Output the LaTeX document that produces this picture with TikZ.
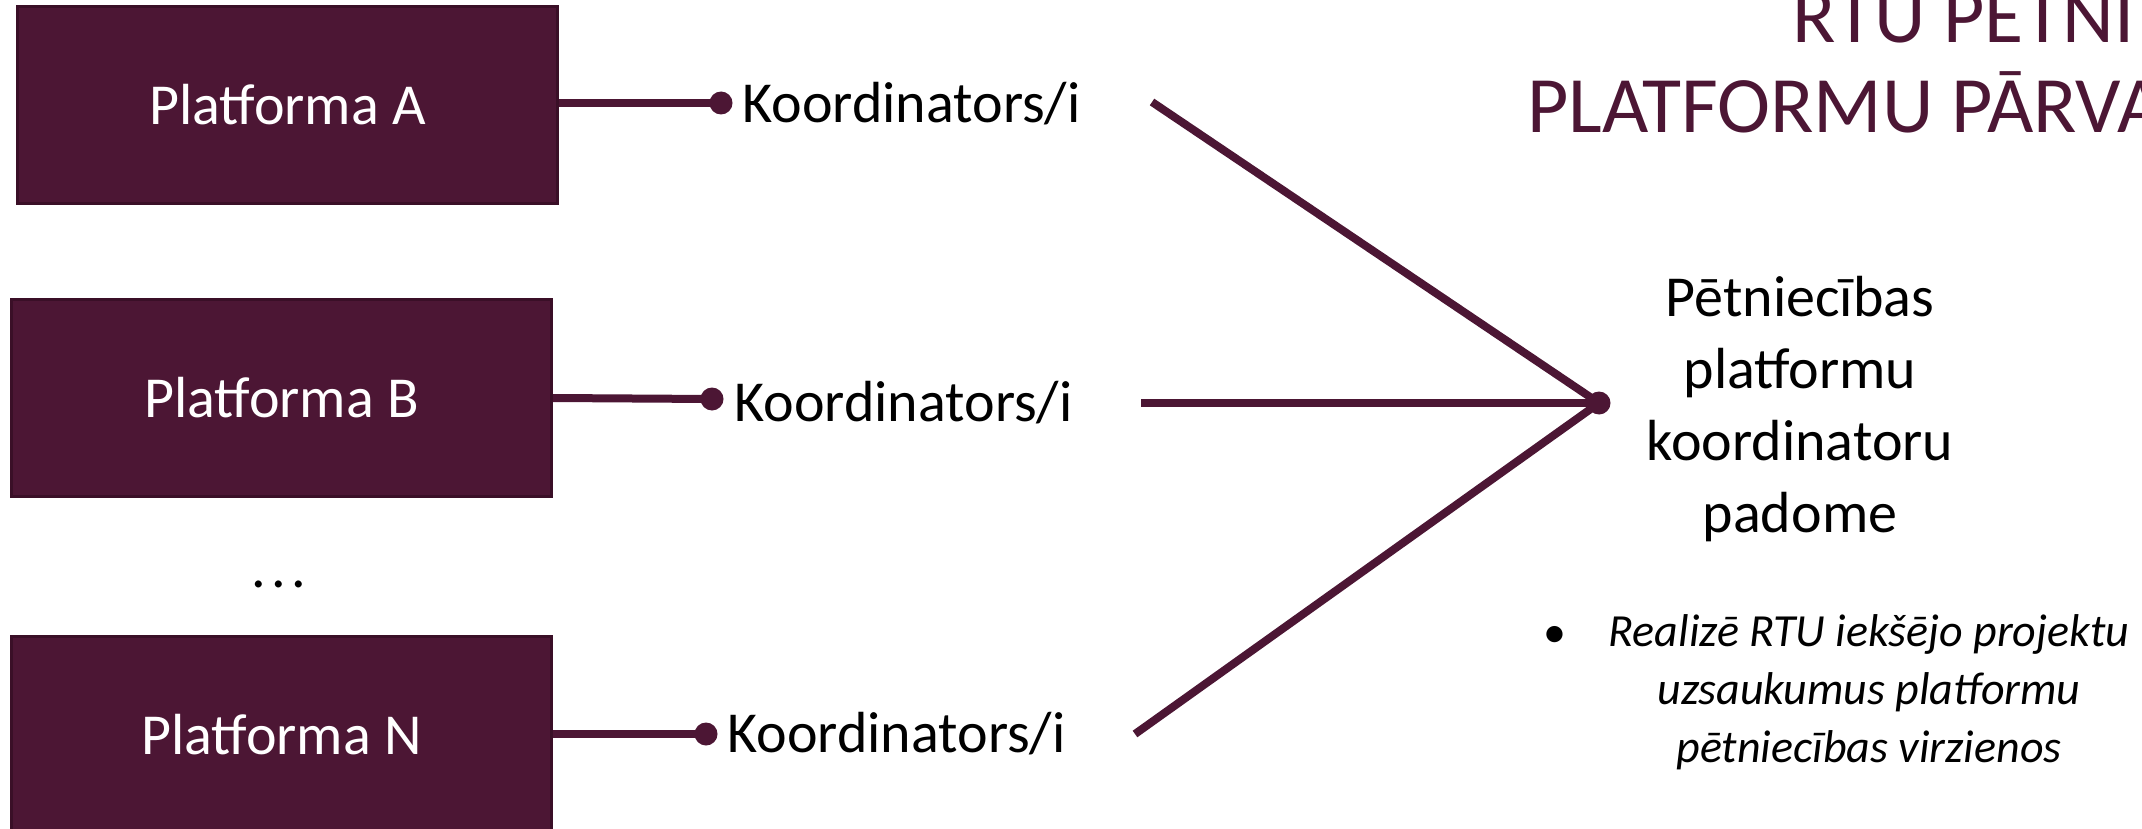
\documentclass[tikz,border=0pt]{standalone}
\usepackage{fontspec}
\setmainfont{Carlito}
\definecolor{plum}{HTML}{4C1634}
\definecolor{plumedge}{HTML}{3A0F27}
\newcommand\lblfont{\fontsize{29pt}{35pt}\selectfont}
\newcommand\councilfont{\fontsize{29pt}{36pt}\selectfont}
\newcommand\notefont{\fontsize{23pt}{29pt}\selectfont}
\newcommand\headfont{\fontsize{40pt}{46pt}\selectfont}
\tikzset{
  platbox/.style={fill=plum, draw=plumedge, line width=1.5pt, text=white,
    font=\lblfont, minimum width=270pt, minimum height=98.5pt, inner sep=0pt,
    anchor=north west},
  klabel/.style={font=\lblfont, inner sep=0pt, anchor=base west},
  jdot/.style={circle, fill=plum, inner sep=0pt, minimum size=11.5pt},
  hubdot/.style={circle, fill=plum, inner sep=0pt, minimum size=11.5pt},
  link/.style={draw=plum, line width=4pt},
  headline/.style={text=plum, font=\headfont, inner sep=0pt, anchor=base west},
}
\begin{document}
\begin{tikzpicture}[x=0.5pt,y=-0.5pt]
\useasboundingbox (0,0) rectangle (2142,829);
\clip (0,0) rectangle (2142,829);

% heading, running past the right edge
\node[headline] (head1) at (1792,43) {RTU PĒTNI};
\node[headline] (head2) at (1527,133) {PLATFORMU PĀRVA};

% platform boxes
\node[platbox] (pA) at (16,5) {Platforma A};
\node[platbox] (pB) at (10,298) {Platforma B};
\node[platbox] (pN) at (10,635) {Platforma N};
\node[font=\lblfont, inner sep=0pt, anchor=base] (gap) at (279,587) {.\hspace{2.6pt}.\hspace{2.6pt}.};

% coordinator joints and labels
\node[jdot] (dA) at (721,103) {};
\node[jdot] (dB) at (712,399) {};
\node[jdot] (dN) at (706,734) {};
\node[klabel] (kA) at (742,123) {Koordinators/i};
\node[klabel] (kB) at (734,421) {Koordinators/i};
\node[klabel] (kN) at (727,752) {Koordinators/i};

\draw[link] (pA.east |- dA) -- (dA.center);
\draw[link] (pB.east) -- (dB.center);
\draw[link] (pN.east |- dN) -- (dN.center);

% council hub
\node[hubdot] (hub) at (1599,403) {};
\coordinate (eA) at (1152,102);
\coordinate (eB) at (1141,403);
\coordinate (eN) at (1135,734);
\draw[link] (eA) -- (hub.center);
\draw[link] (eB) -- (hub.center);
\draw[link] (eN) -- (hub.center);

\node[font=\councilfont, align=center, inner sep=0pt, anchor=north] (council) at (1800,276)
  {Pētniecības\\platformu\\koordinatoru\\padome};

% task of the council
\node[font=\notefont, inner sep=0pt, anchor=base] (bul) at (1555,647) {•};
\node[font=\notefont\itshape, align=center, inner sep=0pt, anchor=north] (task) at (1869,614)
  {Realizē RTU iekšējo projektu\\uzsaukumus platformu\\pētniecības virzienos};
\end{tikzpicture}
\end{document}
